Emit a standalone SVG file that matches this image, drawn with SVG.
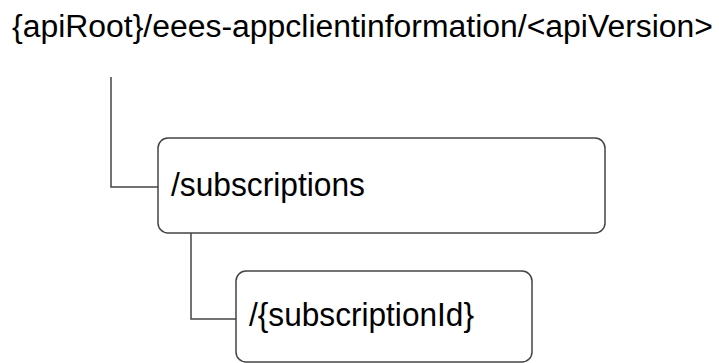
<svg xmlns="http://www.w3.org/2000/svg" width="719" height="363" viewBox="0 0 719 363">
<style>
.t{font-family:"Liberation Sans",Arial,sans-serif;fill:#000}
.box{fill:#fff;stroke:#444;stroke-width:1.5}
.con{fill:none;stroke:#444;stroke-width:1.5}
</style>
<rect width="719" height="363" fill="#fff"/>
<g id="root"><text class="t" x="12" y="37" font-size="31" textLength="701" lengthAdjust="spacingAndGlyphs">{apiRoot}/eees-appclientinformation/&lt;apiVersion&gt;</text></g>
<g id="connectors">
<path class="con" d="M111 77V187H158"/>
<path class="con" d="M191 233V319H236"/>
</g>
<g id="subscriptions"><rect class="box" x="158" y="138" width="447" height="95" rx="10"/><text class="t" x="171" y="196" font-size="33" textLength="194" lengthAdjust="spacingAndGlyphs">/subscriptions</text></g>
<g id="subscriptionId"><rect class="box" x="236" y="271" width="296" height="91" rx="10"/><text class="t" x="249" y="326" font-size="33" textLength="225" lengthAdjust="spacingAndGlyphs">/{subscriptionId}</text></g>
</svg>
